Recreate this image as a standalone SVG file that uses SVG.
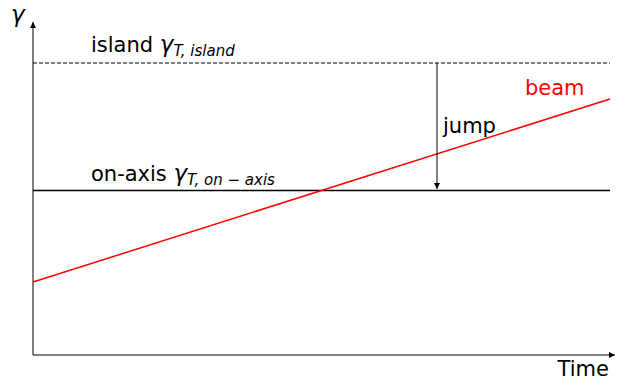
<svg xmlns="http://www.w3.org/2000/svg" width="620" height="380" viewBox="0 0 620 380">
<style>
text{font-family:"DejaVu Sans",sans-serif;font-size:21px;fill:#000}
.it{font-style:italic}
.g{font-style:italic;font-size:23px}
.sub{font-style:italic;font-size:15px}
.ax{stroke:#000;stroke-width:1;fill:none}
</style>
<defs>
<marker id="ah" viewBox="0 0 10 10" refX="10" refY="5" markerWidth="6" markerHeight="6" orient="auto" markerUnits="userSpaceOnUse">
<path d="M0,0 L10,5 L0,10 z" fill="#000"/>
</marker>
</defs>
<rect width="620" height="380" fill="#fff"/>
<g id="connectors">
<line class="ax" x1="33" y1="355" x2="33" y2="22" marker-end="url(#ah)"/>
<line class="ax" x1="33" y1="355" x2="615" y2="355" marker-end="url(#ah)"/>
<line x1="33" y1="63" x2="610" y2="63" stroke="#000" stroke-width="1" stroke-dasharray="4,2"/>
<line x1="33" y1="190.5" x2="610" y2="190.5" stroke="#000" stroke-width="1.5"/>
<line x1="33" y1="282" x2="610" y2="99" stroke="#f00" stroke-width="1.5"/>
<line class="ax" x1="437" y1="63" x2="437" y2="189" marker-end="url(#ah)"/>
</g>
<g id="labels">
<text class="g" x="11" y="22" style="font-size:23px">γ</text>
<text x="91" y="52">island <tspan class="g">γ</tspan><tspan class="sub" dy="4">T, island</tspan></text>
<text x="91" y="181">on-axis <tspan class="g">γ</tspan><tspan class="sub" dy="4">T, on − axis</tspan></text>
<text x="525" y="95" style="fill:#f00">beam</text>
<text x="443" y="133">jump</text>
<text x="609" y="376" text-anchor="end">Time</text>
</g>
</svg>
